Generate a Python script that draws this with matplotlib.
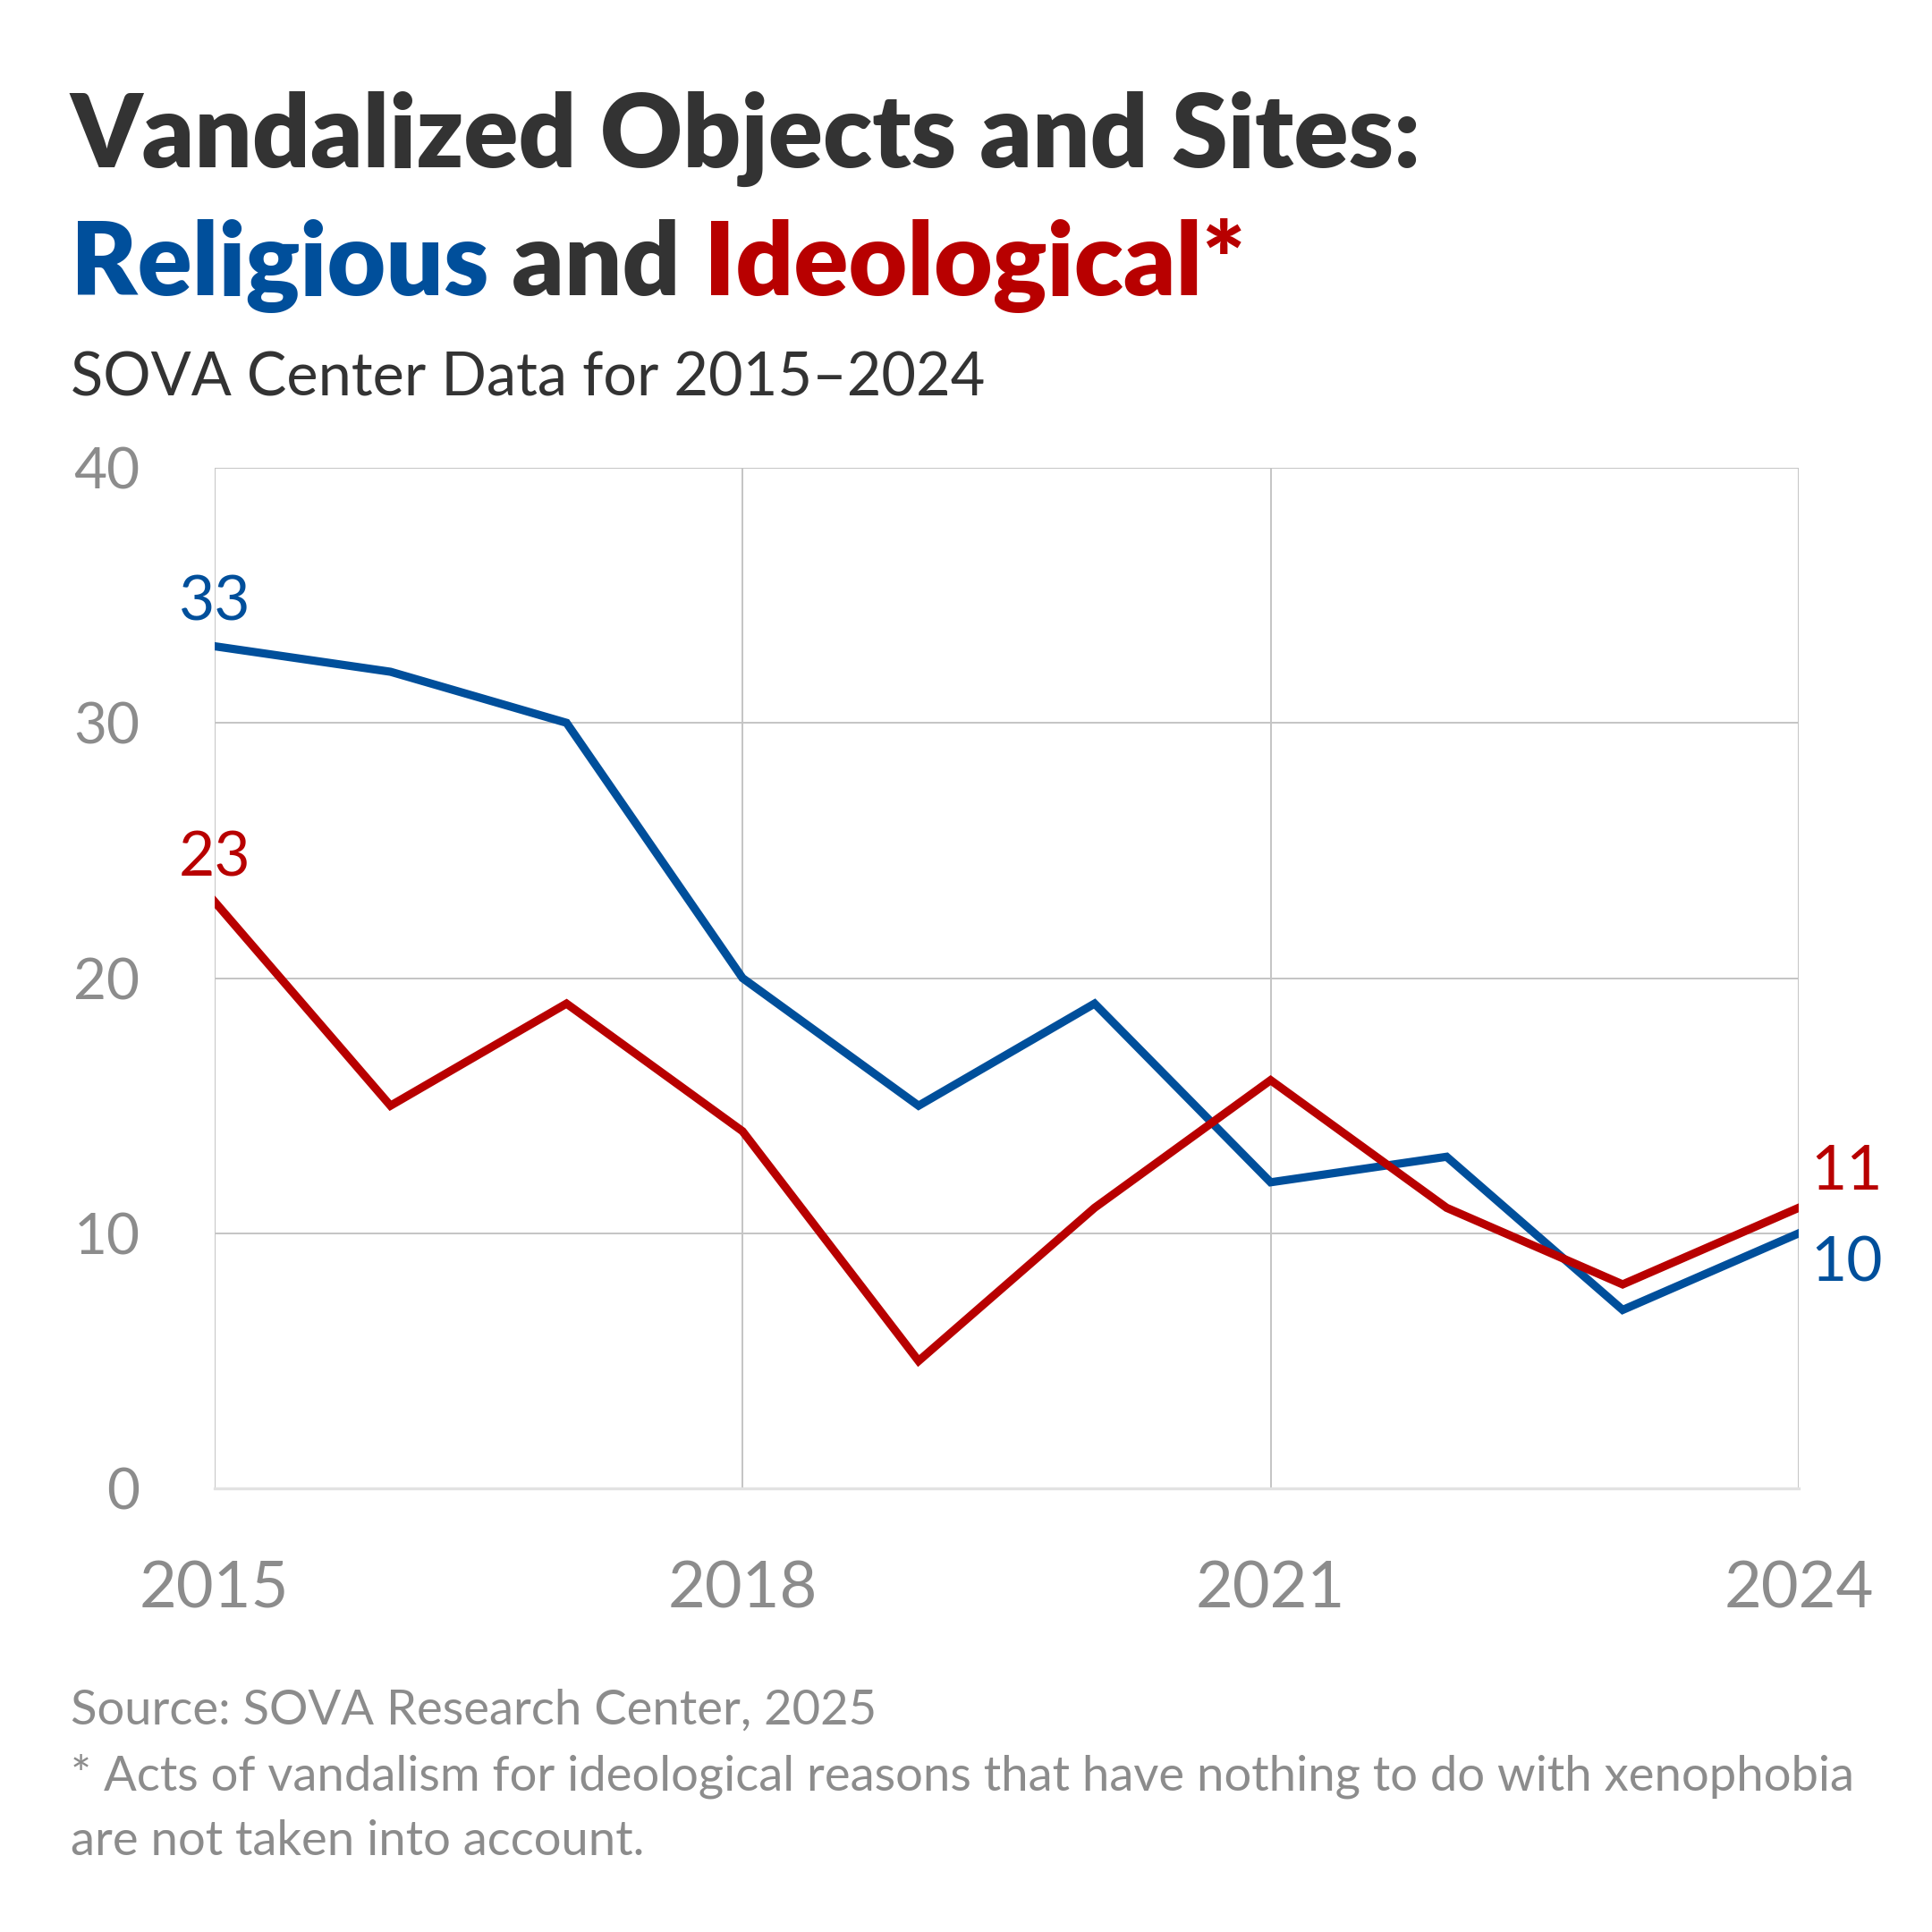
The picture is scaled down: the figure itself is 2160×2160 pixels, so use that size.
import matplotlib
matplotlib.use("Agg")
import matplotlib.pyplot as plt

# Data
years = [2015, 2016, 2017, 2018, 2019, 2020, 2021, 2022, 2023, 2024]
religious = [33, 32, 30, 20, 15, 19, 12, 13, 7, 10]
ideological = [23, 15, 19, 14, 5, 11, 16, 11, 8, 11]
x_ticks = [2015, 2018, 2021, 2024]
y_ticks = [0, 10, 20, 30, 40]

BLUE = "#004f9b"
RED = "#b80000"
DARK = "#333333"
GREY = "#8c8c8c"
FONT = "Lato"

plt.rcParams["font.family"] = [FONT, "DejaVu Sans"]

fig = plt.figure(figsize=(10.8, 10.8), dpi=200)
ax = fig.add_axes([0.111, 0.2295, 0.931 - 0.111, 0.758 - 0.2295])

ax.plot(years, religious, color=BLUE, lw=3.3, solid_joinstyle="miter", zorder=3)
ax.plot(years, ideological, color=RED, lw=3.3, solid_joinstyle="miter", zorder=3)

ax.set_xlim(2015, 2024)
ax.set_ylim(0, 40)
ax.set_xticks(x_ticks)
ax.set_yticks(y_ticks)
ax.grid(True, color="#c4c4c4", lw=0.7)
ax.set_axisbelow(True)
for side in ["top", "left", "right"]:
    ax.spines[side].set_visible(False)
ax.spines["bottom"].set_color("#e2e2e2")
ax.spines["bottom"].set_linewidth(1.2)
ax.tick_params(axis="y", length=0, pad=30, labelsize=23, labelcolor=GREY)
ax.tick_params(axis="x", length=0, pad=29, labelsize=26, labelcolor=GREY)

# end labels
ax.annotate(str(religious[0]), (years[0], religious[0]), xytext=(0, 6),
            textcoords="offset points", ha="center", va="bottom",
            color=BLUE, fontsize=25)
ax.annotate(str(ideological[0]), (years[0], ideological[0]), xytext=(0, 6),
            textcoords="offset points", ha="center", va="bottom",
            color=RED, fontsize=25)
ax.annotate(str(ideological[-1]), (years[-1], ideological[-1]), xytext=(5, 3),
            textcoords="offset points", ha="left", va="bottom",
            color=RED, fontsize=25, annotation_clip=False)
ax.annotate(str(religious[-1]), (years[-1], religious[-1]), xytext=(5, -1),
            textcoords="offset points", ha="left", va="top",
            color=BLUE, fontsize=25, annotation_clip=False)

# title
x0 = 0.0365
fig.text(x0, 0.9135, "Vandalized Objects and Sites:", fontsize=40.8,
         fontweight="heavy", color=DARK, va="baseline")

renderer = fig.canvas.get_renderer()
x = x0
for part, col in [("Religious", BLUE), (" and ", DARK), ("Ideological*", RED)]:
    t = fig.text(x, 0.8474, part, fontsize=40.8, fontweight="heavy", color=col,
                 va="baseline")
    bb = t.get_window_extent(renderer=renderer)
    x += bb.width / fig.bbox.width

fig.text(x0, 0.795, "SOVA Center Data for 2015\u20132024", fontsize=24,
         color=DARK, va="baseline")

# footer
fig.text(x0, 0.1075, "Source: SOVA Research Center, 2025", fontsize=19.6,
         color=GREY, va="baseline")
fig.text(x0, 0.0735, "* Acts of vandalism for ideological reasons that have "
         "nothing to do with xenophobia", fontsize=19.6, color=GREY,
         va="baseline")
fig.text(x0, 0.040, "are not taken into account.", fontsize=19.6, color=GREY,
         va="baseline")

fig.savefig("out.png", dpi=200, facecolor="white")
